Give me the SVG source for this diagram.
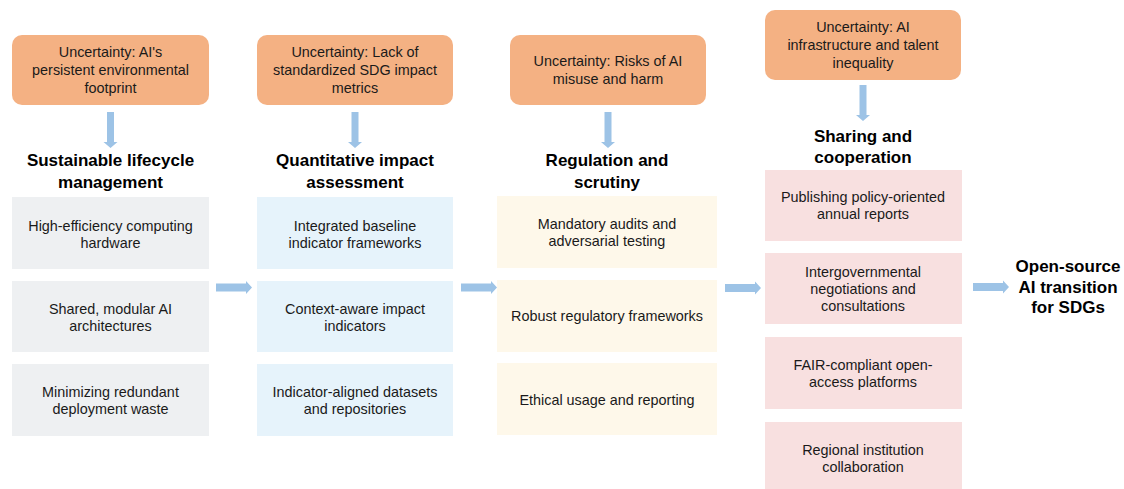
<svg xmlns="http://www.w3.org/2000/svg" width="1124" height="489" viewBox="0 0 1124 489">
<defs>
<style>
.unc{fill:#f4b183}
.t{font-family:"Liberation Sans",Arial,sans-serif;font-size:14.4px;fill:#1a1a1a;text-anchor:middle}
.h{font-family:"Liberation Sans",Arial,sans-serif;font-size:17px;font-weight:bold;fill:#000;text-anchor:middle}
.g{fill:#eef0f2}.b{fill:#e6f3fb}.y{fill:#fef8ea}.p{fill:#f8e0e0}
.arr{fill:#9dc3e6}
</style>
<path id="darr" d="M-3.5,0 H3.5 V30 H7 L0,36 L-7,30 H-3.5 Z"/>
<path id="rarr" d="M0,-4 H30 V-6.5 L36,0 L30,6.5 V4 H0 Z"/>
</defs>
<rect width="1124" height="489" fill="#fff"/>

<g id="col1">
<rect class="unc" x="12" y="35" width="197" height="70" rx="10"/>
<text class="t" x="110.5" y="57">Uncertainty: AI's</text>
<text class="t" x="110.5" y="75">persistent environmental</text>
<text class="t" x="110.5" y="93">footprint</text>
<text class="h" x="110.5" y="166">Sustainable lifecycle</text>
<text class="h" x="110.5" y="188">management</text>
<rect class="g" x="12" y="197" width="197" height="72"/>
<text class="t" x="110.5" y="231">High-efficiency computing</text>
<text class="t" x="110.5" y="248">hardware</text>
<rect class="g" x="12" y="281" width="197" height="71"/>
<text class="t" x="110.5" y="314">Shared, modular AI</text>
<text class="t" x="110.5" y="331">architectures</text>
<rect class="g" x="12" y="364" width="197" height="72"/>
<text class="t" x="110.5" y="397">Minimizing redundant</text>
<text class="t" x="110.5" y="414">deployment waste</text>
</g>

<g id="col2">
<rect class="unc" x="257" y="35" width="196" height="70" rx="10"/>
<text class="t" x="355" y="57">Uncertainty: Lack of</text>
<text class="t" x="355" y="75">standardized SDG impact</text>
<text class="t" x="355" y="93">metrics</text>
<text class="h" x="355" y="166">Quantitative impact</text>
<text class="h" x="355" y="188">assessment</text>
<rect class="b" x="257" y="197" width="196" height="72"/>
<text class="t" x="355" y="231">Integrated baseline</text>
<text class="t" x="355" y="248">indicator frameworks</text>
<rect class="b" x="257" y="281" width="196" height="71"/>
<text class="t" x="355" y="314">Context-aware impact</text>
<text class="t" x="355" y="331">indicators</text>
<rect class="b" x="257" y="364" width="196" height="72"/>
<text class="t" x="355" y="397">Indicator-aligned datasets</text>
<text class="t" x="355" y="414">and repositories</text>
</g>

<g id="col3">
<rect class="unc" x="510" y="35" width="196" height="70" rx="10"/>
<text class="t" x="608" y="66">Uncertainty: Risks of AI</text>
<text class="t" x="608" y="84">misuse and harm</text>
<text class="h" x="607" y="166">Regulation and</text>
<text class="h" x="607" y="188">scrutiny</text>
<rect class="y" x="497" y="196" width="220" height="72"/>
<text class="t" x="607" y="229">Mandatory audits and</text>
<text class="t" x="607" y="246">adversarial testing</text>
<rect class="y" x="497" y="280" width="220" height="72"/>
<text class="t" x="607" y="321">Robust regulatory frameworks</text>
<rect class="y" x="497" y="363" width="220" height="72"/>
<text class="t" x="607" y="405">Ethical usage and reporting</text>
</g>

<g id="col4">
<rect class="unc" x="765" y="10" width="196" height="70" rx="10"/>
<text class="t" x="863" y="32">Uncertainty: AI</text>
<text class="t" x="863" y="50">infrastructure and talent</text>
<text class="t" x="863" y="68">inequality</text>
<text class="h" x="863" y="142">Sharing and</text>
<text class="h" x="863" y="163">cooperation</text>
<rect class="p" x="765" y="170" width="197" height="71"/>
<text class="t" x="863" y="202">Publishing policy-oriented</text>
<text class="t" x="863" y="219">annual reports</text>
<rect class="p" x="765" y="253" width="197" height="71"/>
<text class="t" x="863" y="277">Intergovernmental</text>
<text class="t" x="863" y="294">negotiations and</text>
<text class="t" x="863" y="311">consultations</text>
<rect class="p" x="765" y="337" width="197" height="72"/>
<text class="t" x="863" y="370">FAIR-compliant open-</text>
<text class="t" x="863" y="387">access platforms</text>
<rect class="p" x="765" y="422" width="197" height="67"/>
<text class="t" x="863" y="455">Regional institution</text>
<text class="t" x="863" y="472">collaboration</text>
</g>

<g id="goal">
<text class="h" x="1068" y="272">Open-source</text>
<text class="h" x="1068" y="293">AI transition</text>
<text class="h" x="1068" y="313">for SDGs</text>
</g>

<g id="connectors" class="arr">
<use href="#darr" x="110.5" y="112"/>
<use href="#darr" x="355" y="112"/>
<use href="#darr" x="608" y="112"/>
<use href="#darr" x="863" y="85"/>
<use href="#rarr" x="216" y="287.5"/>
<use href="#rarr" x="461" y="287.5"/>
<use href="#rarr" x="725" y="288"/>
<use href="#rarr" x="973" y="287"/>
</g>
</svg>
